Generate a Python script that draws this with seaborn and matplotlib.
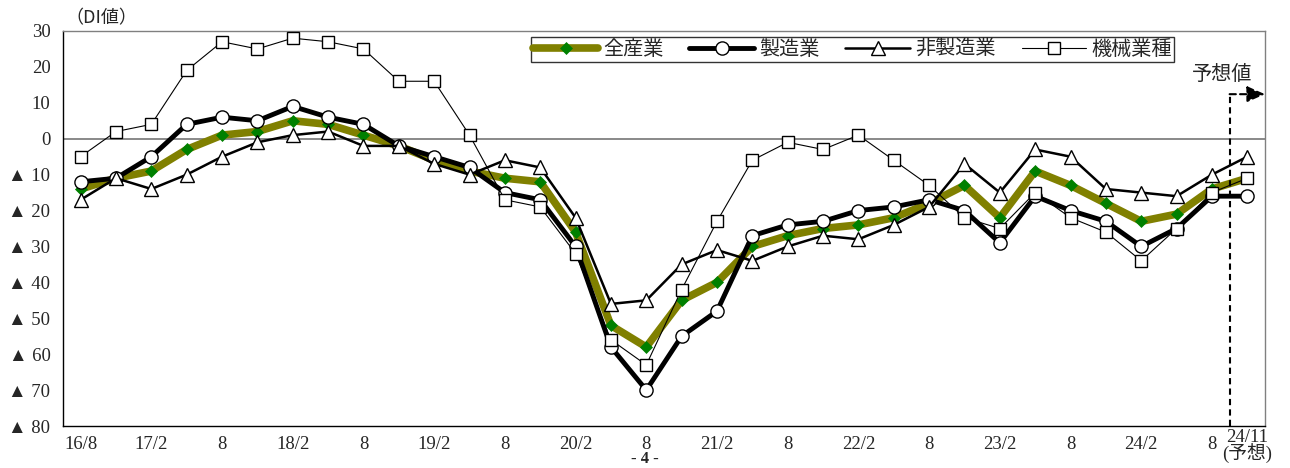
import numpy as np
import pandas as pd
import matplotlib
matplotlib.use('Agg')
import matplotlib.pyplot as plt
import matplotlib.transforms as mtransforms
import seaborn as sns

# quarterly survey periods, 16/8 .. 24/11 (last one is the forecast)
periods = ['16/8', '16/11', '17/2', '17/5', '17/8', '17/11', '18/2', '18/5', '18/8', '18/11',
           '19/2', '19/5', '19/8', '19/11', '20/2', '20/5', '20/8', '20/11', '21/2', '21/5',
           '21/8', '21/11', '22/2', '22/5', '22/8', '22/11', '23/2', '23/5', '23/8', '23/11',
           '24/2', '24/5', '24/8', '24/11']

all_industry = [-14, -11, -9, -3, 1, 2, 5, 4, 1, -2, -6, -9, -11, -12, -26, -52, -58,
                -45, -40, -30, -27, -25, -24, -22, -18, -13, -22, -9, -13, -18, -23, -21, -14, -11]
manufacturing = [-12, -11, -5, 4, 6, 5, 9, 6, 4, -2, -5, -8, -15, -17, -30, -58, -70,
                 -55, -48, -27, -24, -23, -20, -19, -17, -20, -29, -16, -20, -23, -30, -25, -16, -16]
non_manufacturing = [-17, -11, -14, -10, -5, -1, 1, 2, -2, -2, -7, -10, -6, -8, -22, -46, -45,
                     -35, -31, -34, -30, -27, -28, -24, -19, -7, -15, -3, -5, -14, -15, -16, -10, -5]
machinery = [-5, 2, 4, 19, 27, 25, 28, 27, 25, 16, 16, 1, -17, -19, -32, -56, -63,
             -42, -23, -6, -1, -3, 1, -6, -13, -22, -25, -15, -22, -26, -34, -25, -15, -11]

series_names = ['全産業', '製造業', '非製造業', '機械業種']

tick_pos = [0, 2, 4, 6, 8, 10, 12, 14, 16, 18, 20, 22, 24, 26, 28, 30, 32, 33]
tick_labels = ['16/8', '17/2', '8', '18/2', '8', '19/2', '8', '20/2', '8', '21/2', '8',
               '22/2', '8', '23/2', '8', '24/2', '8', '24/11\n(予想)']

y_ticks = list(range(-80, 31, 10))
y_labels = [f'▲ {-v}' if v < 0 else str(v) for v in y_ticks]

df = pd.DataFrame({'idx': np.arange(len(periods)),
                   '全産業': all_industry,
                   '製造業': manufacturing,
                   '非製造業': non_manufacturing,
                   '機械業種': machinery})

sns.set_theme(style='white')
plt.rcParams['font.family'] = ['Noto Sans CJK JP', 'DejaVu Sans']
num_font = ['Liberation Serif', 'Noto Sans CJK JP', 'DejaVu Sans']

fig = plt.figure(figsize=(12.9, 4.68), dpi=100)
ax = fig.add_axes([0.0488, 0.0897, 0.9318, 0.8441])

styles = {
    '全産業': dict(color='#808000', lw=5.5, marker='D', ms=6.5, mfc='#008000', mec='#008000', mew=0.5),
    '製造業': dict(color='black', lw=3.5, marker='o', ms=9.5, mfc='white', mec='black', mew=1.0),
    '非製造業': dict(color='black', lw=1.8, marker='^', ms=9.5, mfc='white', mec='black', mew=1.0),
    '機械業種': dict(color='black', lw=0.8, marker='s', ms=9, mfc='white', mec='black', mew=1.0),
}

ax.axhline(0, color='#808080', lw=1.3, zorder=1)

for name in series_names:
    st = styles[name]
    sns.lineplot(data=df, x='idx', y=name, ax=ax, label=name, color=st['color'],
                 linewidth=st['lw'], marker=st['marker'], markersize=st['ms'],
                 markerfacecolor=st['mfc'], markeredgecolor=st['mec'],
                 markeredgewidth=st['mew'], zorder=3)

ax.set_xlim(-0.5, 33.5)
ax.set_ylim(-80, 30)
ax.set_xticks(tick_pos)
ax.set_xticklabels(tick_labels, family=num_font, fontsize=13.5, linespacing=0.9)
ax.set_yticks(y_ticks)
ax.set_yticklabels(y_labels, family=num_font, fontsize=13.5)
ax.tick_params(axis='both', length=0)
ax.tick_params(axis='x', pad=7)
ax.tick_params(axis='y', pad=9)
ax.set_xlabel('')
ax.set_ylabel('')

# lift the two-line forecast label a little so it fits on the page
last = ax.get_xticklabels()[-1]
last.set_transform(last.get_transform() +
                   mtransforms.ScaledTranslation(0, 5 / 72, fig.dpi_scale_trans))

for side in ['left', 'bottom']:
    ax.spines[side].set_color('black')
    ax.spines[side].set_linewidth(1.0)
for side in ['top', 'right']:
    ax.spines[side].set_color('#808080')
    ax.spines[side].set_linewidth(1.0)

# forecast marker
ax.plot([32.5, 32.5], [-80, 12.4], color='black', lw=1.5, ls=(0, (3, 2)), zorder=4, clip_on=False)
ax.annotate('', xy=(33.5, 12.4), xytext=(32.5, 12.4),
            arrowprops=dict(arrowstyle='-|>,head_length=0.9,head_width=0.4', color='black',
                            lw=1.5, ls=(0, (3, 2)), shrinkA=0, shrinkB=0),
            annotation_clip=False, zorder=4)
ax.text(32.3, 18.0, '予想値', ha='center', va='center', fontsize=14.5)

leg = ax.legend(loc='upper right', bbox_to_anchor=(0.924, 0.985), ncol=4, fontsize=14.5,
                frameon=True, fancybox=False, borderpad=0.1, handlelength=3.2,
                handletextpad=0.25, columnspacing=1.3, borderaxespad=0)
leg.get_frame().set_edgecolor('black')
leg.get_frame().set_linewidth(1.0)

fig.text(0.051, 0.962, '（DI値）', ha='left', va='center', fontsize=13)
fig.text(0.5, 0.003, '- 4 -', ha='center', va='bottom', fontsize=12, fontweight='bold',
         family=num_font)

fig.savefig('out.png', dpi=100)
